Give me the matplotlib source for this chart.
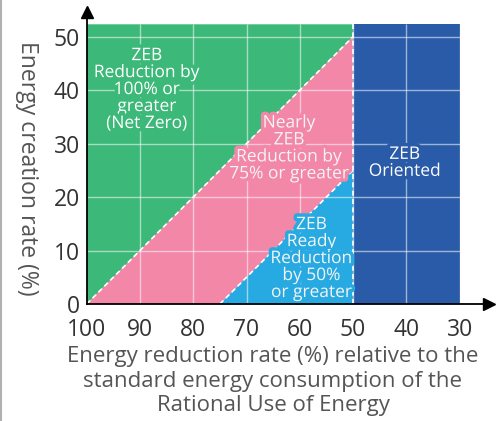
import matplotlib
matplotlib.use("Agg")
import matplotlib.pyplot as plt
import matplotlib.patheffects as pe
from matplotlib.lines import Line2D

plt.rcParams['font.family'] = ['Open Sans', 'DejaVu Sans']

# axis ticks
x_ticks = [100, 90, 80, 70, 60, 50, 40, 30]
y_ticks = [0, 10, 20, 30, 40, 50]
y_top = 52.3

# region boundaries (reduction rate %, creation rate %)
zeb_line_x = [100, 50]
zeb_line_y = [0, 50]
nearly_line_x = [75, 50]
nearly_line_y = [0, 25]
oriented_from = 50
oriented_to = 30

labels = ["ZEB\nReduction by\n100% or\ngreater\n(Net Zero)",
          "Nearly\nZEB\nReduction by\n75% or greater",
          "ZEB\nOriented",
          "ZEB\nReady\nReduction\nby 50%\nor greater"]
label_x = [88.7, 62.0, 40.3, 57.8]
label_y = [40.0, 29.0, 26.3, 8.4]

green = '#3cb878'
pink = '#f287a8'
cyan = '#27a9e1'
blue = '#2a5ba8'
label_bg = [green, pink, blue, cyan]
label_fg = ['white', '#f4f4f4', 'white', '#f4f4f4']

fig = plt.figure(figsize=(5.02, 4.21), dpi=100)
ax = fig.add_axes([0.1727, 0.2779, 0.8014, 0.6936])
ax.set_xlim(100, 24.5)
ax.set_ylim(0, 54.6)

# regions
ax.fill([zeb_line_x[0], zeb_line_x[1], oriented_from, zeb_line_x[0]],
        [zeb_line_y[0], zeb_line_y[1], y_top, y_top], color=green, lw=0, zorder=1)
ax.fill([zeb_line_x[0], nearly_line_x[0], nearly_line_x[1], zeb_line_x[1]],
        [zeb_line_y[0], nearly_line_y[0], nearly_line_y[1], zeb_line_y[1]],
        color=pink, lw=0, zorder=1)
ax.fill([nearly_line_x[0], oriented_from, nearly_line_x[1]],
        [nearly_line_y[0], 0, nearly_line_y[1]], color=cyan, lw=0, zorder=1)
ax.fill([oriented_from, oriented_to, oriented_to, oriented_from],
        [0, 0, y_top, y_top], color=blue, lw=0, zorder=1)

# grid
ax.hlines(y_ticks[1:], x_ticks[0], x_ticks[-1], color='white', alpha=0.55, lw=1, zorder=2)
ax.vlines(x_ticks[1:], 0, y_top, color='white', alpha=0.55, lw=1, zorder=2)

# dashed boundaries
dash = dict(color='white', lw=1.2, ls=(0, (3, 2)), zorder=3)
ax.plot(zeb_line_x, zeb_line_y, **dash)
ax.plot(nearly_line_x, nearly_line_y, **dash)
ax.plot([oriented_from, oriented_from], [0, y_top], **dash)

for t, x, y, bg, fg in zip(labels, label_x, label_y, label_bg, label_fg):
    ax.text(x, y, t, ha='center', va='center', fontsize=12.5, color=fg,
            fontweight='medium', linespacing=1.08, zorder=5,
            path_effects=[pe.withStroke(linewidth=5, foreground=bg)])

# axes with arrows
for s in ['top', 'right']:
    ax.spines[s].set_visible(False)
for s in ['left', 'bottom']:
    ax.spines[s].set_color('black')
    ax.spines[s].set_linewidth(1.3)
    ax.spines[s].set_zorder(6)
ax.plot(1, 0, '>k', ms=9, transform=ax.transAxes, clip_on=False, zorder=7)
ax.plot(0, 1, '^k', ms=9, transform=ax.transAxes, clip_on=False, zorder=7)

ax.set_xticks(x_ticks)
ax.set_yticks(y_ticks)
ax.tick_params(length=0, labelsize=16.5, colors='#333333')
ax.tick_params(axis='x', pad=10)
ax.tick_params(axis='y', pad=5)

fig.text(273 / 502, 1 - 381 / 421,
         "Energy reduction rate (%) relative to the\nstandard energy consumption of the\nRational Use of Energy",
         ha='center', va='center', fontsize=16, color='#555555', linespacing=1.22)
fig.text(27 / 502, 1 - 168 / 421, "Energy creation rate (%)", rotation=-90,
         ha='center', va='center', fontsize=16.5, color='#555555')

fig.add_artist(Line2D([0.002, 0.002], [0, 1], color='#b0b0b0', lw=1.5,
                      transform=fig.transFigure))

fig.savefig("out.png", dpi=100)
